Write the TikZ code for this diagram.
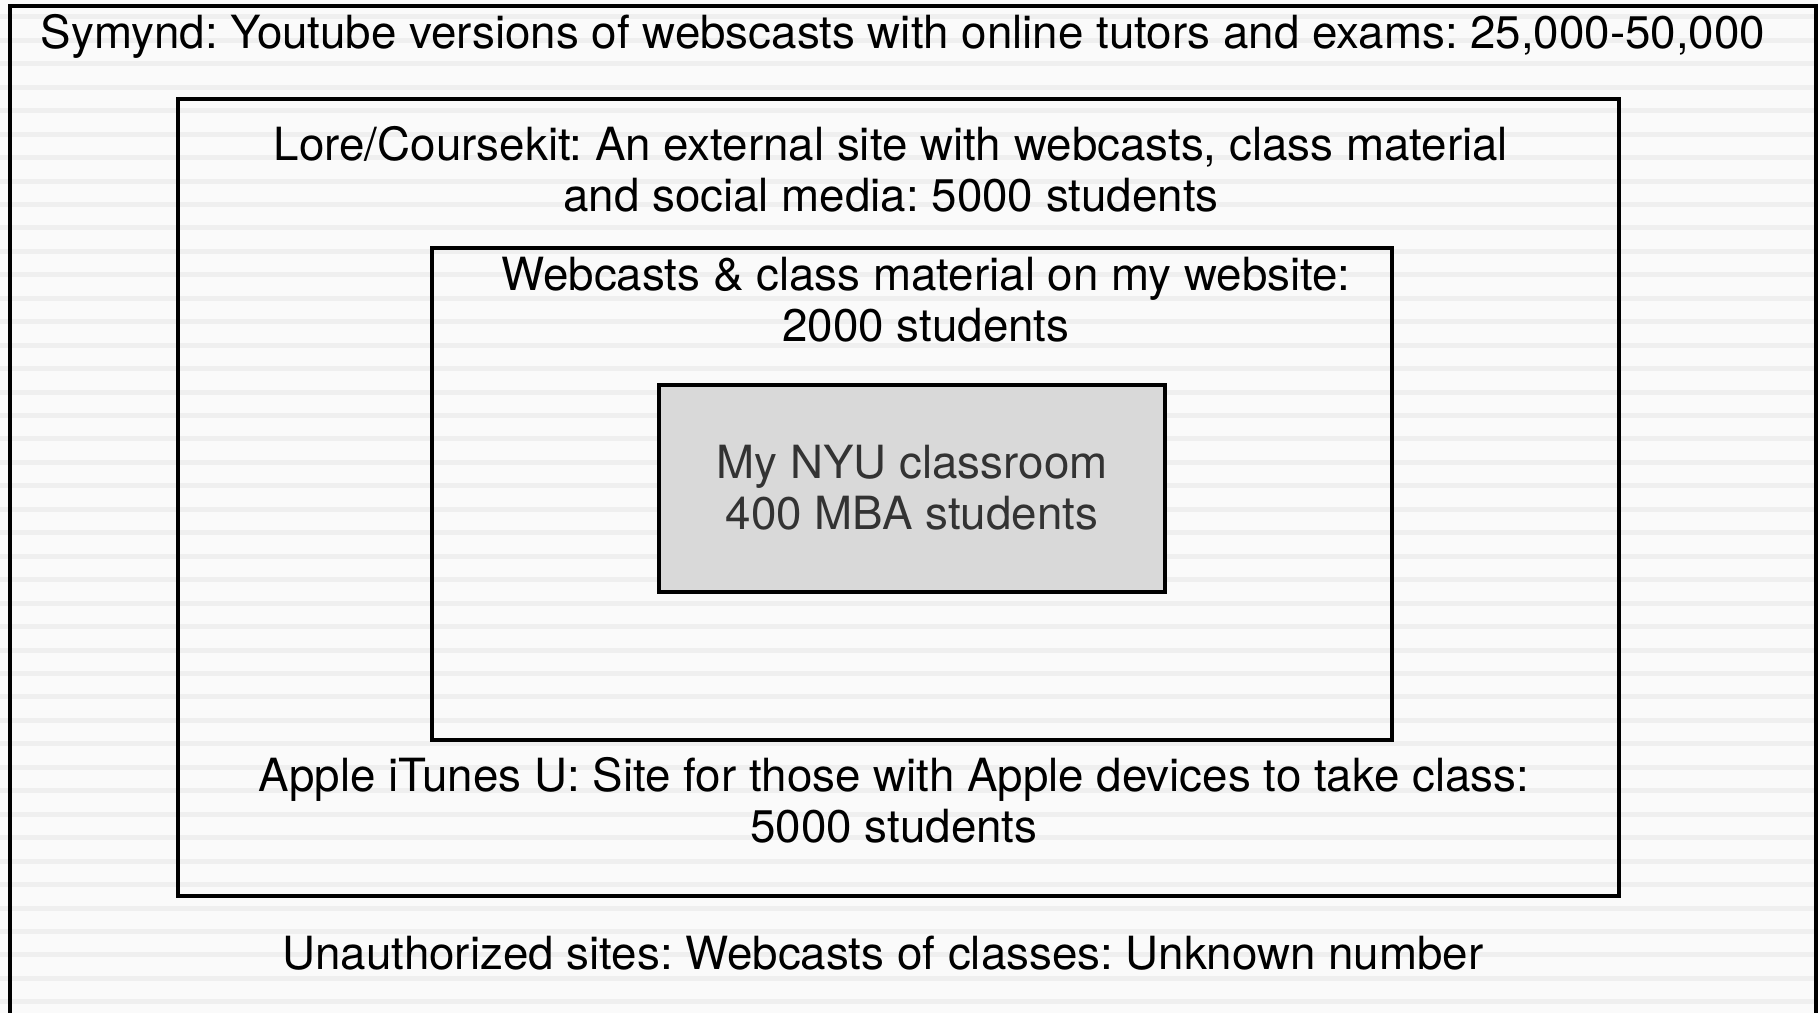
\documentclass[tikz,border=0pt]{standalone}
\usepackage{fontspec}
\setmainfont{TeX Gyre Heros}

\definecolor{paper}{HTML}{FAFAFA}
\definecolor{band}{HTML}{EFEFEF}
\definecolor{roomfill}{HTML}{D9D9D9}
\definecolor{roomtext}{HTML}{333333}

\begin{document}
\frenchspacing
\begin{tikzpicture}[x=0.01cm,y=-0.01cm,
		frame/.style={draw=black,line width=1pt},
		lab/.style={align=center,inner sep=0pt,font=\fontsize{13}{14.6}\selectfont}]
	\clip (0,0) rectangle (1818,1013);
	% striped paper
	\fill[paper] (0,0) rectangle (1818,1013);
	\foreach \k in {0,...,43}
		\fill[band] (0,{14.4+23.45*\k}) rectangle (1818,{19.4+23.45*\k});

	% nested rings, outermost first
	\draw[frame,line width=1.15pt] (10,1040) -- (10,6) -- (1816,6) -- (1816,1040);
	\draw[frame] (178,99) rectangle (1619,896);
	\draw[frame] (432,248) rectangle (1392,740);
	\draw[frame,fill=roomfill] (659,385) rectangle (1165,592);

	\node[lab] (symynd) at (903,36) {Symynd: Youtube versions of webscasts with online tutors and exams: 25,000-50,000};
	\node[lab] (lore) at (891,169) {Lore/Coursekit: An external site with webcasts, class material\\and social media: 5000 students};
	\node[lab] (site) at (926,300) {Webcasts \& class material on my website:\\2000 students};
	\node[lab,text=roomtext] (nyu) at (912,488) {My NYU classroom\\400 MBA students};
	\node[lab] (itunes) at (894,800) {Apple iTunes U: Site for those with Apple devices to take class:\\5000 students};
	\node[lab] (unauth) at (883,953) {Unauthorized sites: Webcasts of classes: Unknown number};
\end{tikzpicture}
\end{document}
